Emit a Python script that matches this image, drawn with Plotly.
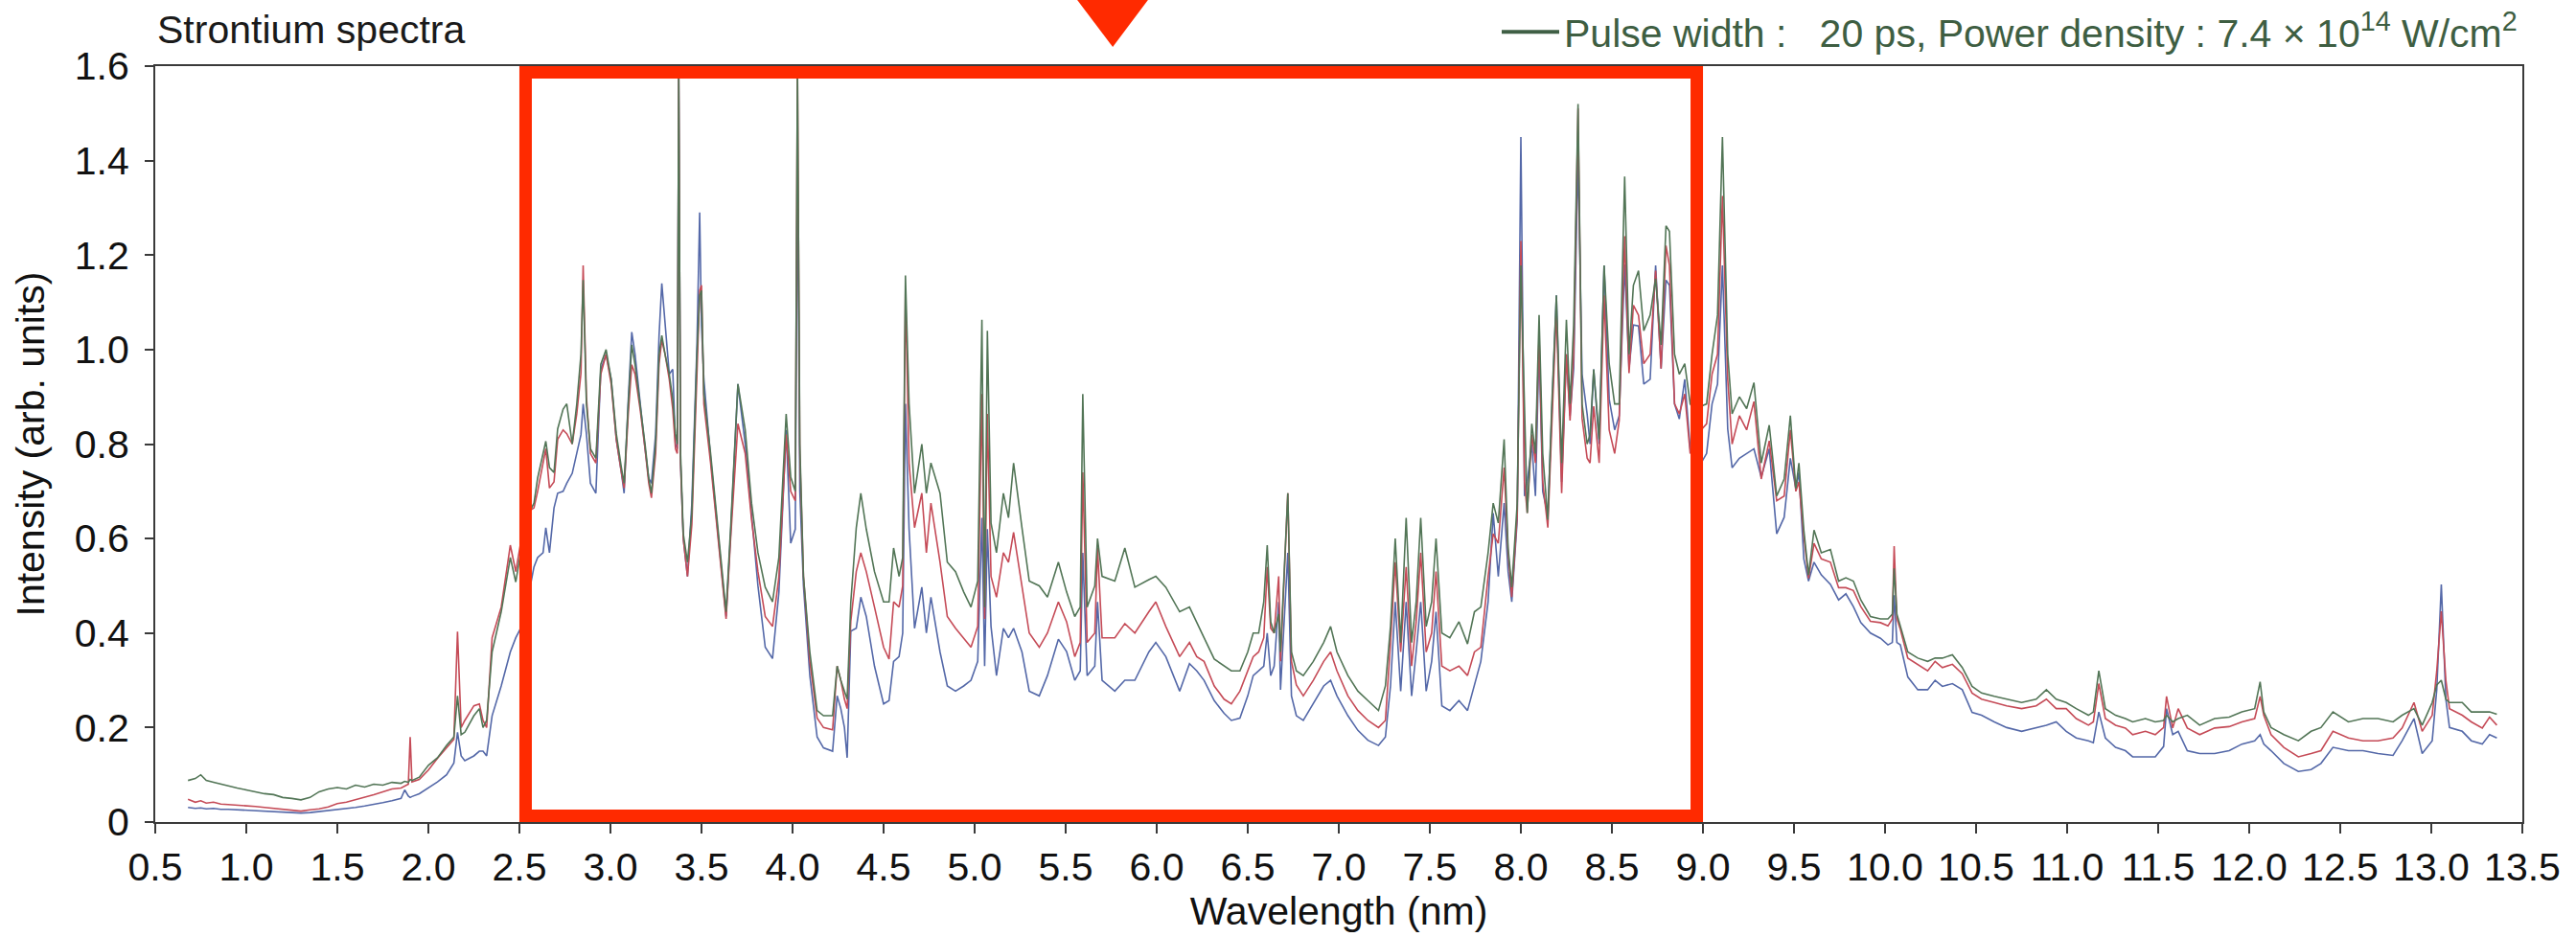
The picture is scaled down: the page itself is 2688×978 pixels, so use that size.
import plotly.graph_objects as go

# ---- data (wavelength in nm, intensity in arb. units) ----
wavelength = [
    0.68, 0.72, 0.75, 0.78, 0.82, 0.86, 0.90, 0.95, 1.00, 1.05, 1.10, 1.15, 1.20, 1.25, 1.30,
    1.35, 1.40, 1.45, 1.50, 1.55, 1.60, 1.65, 1.70, 1.75, 1.80, 1.85, 1.87, 1.89, 1.90, 1.91,
    1.95, 2.00, 2.05, 2.10, 2.14, 2.16, 2.18, 2.20, 2.25, 2.28, 2.30, 2.32, 2.35, 2.40, 2.45,
    2.48, 2.52, 2.56, 2.58, 2.60, 2.63, 2.645, 2.665, 2.69, 2.71, 2.74, 2.76, 2.79, 2.815, 2.838,
    2.85, 2.868, 2.89, 2.92, 2.947, 2.976, 3.004, 3.032, 3.06, 3.075, 3.098, 3.117, 3.135, 3.163, 3.19,
    3.21, 3.225, 3.248, 3.267, 3.282, 3.30, 3.323, 3.342, 3.357, 3.367, 3.375, 3.385, 3.40, 3.423, 3.447,
    3.475, 3.49, 3.50, 3.513, 3.55, 3.59, 3.635, 3.66, 3.70, 3.74, 3.775, 3.81, 3.85, 3.89, 3.925,
    3.965, 3.99, 4.015, 4.027, 4.04, 4.06, 4.095, 4.135, 4.17, 4.22, 4.245, 4.265, 4.285, 4.30, 4.32,
    4.35, 4.375, 4.405, 4.45, 4.50, 4.53, 4.555, 4.585, 4.605, 4.62, 4.64, 4.67, 4.71, 4.735, 4.76,
    4.81, 4.85, 4.895, 4.94, 4.98, 5.017, 5.04, 5.055, 5.07, 5.09, 5.12, 5.158, 5.186, 5.214, 5.26,
    5.30, 5.355, 5.40, 5.46, 5.505, 5.55, 5.58, 5.594, 5.618, 5.66, 5.675, 5.70, 5.77, 5.825, 5.88,
    5.957, 5.995, 6.05, 6.126, 6.18, 6.22, 6.26, 6.316, 6.37, 6.41, 6.457, 6.50, 6.53, 6.56, 6.588,
    6.607, 6.626, 6.645, 6.67, 6.68, 6.72, 6.74, 6.767, 6.805, 6.86, 6.917, 6.955, 6.99, 7.05, 7.105,
    7.16, 7.218, 7.256, 7.284, 7.31, 7.34, 7.37, 7.40, 7.425, 7.45, 7.48, 7.51, 7.534, 7.566, 7.61,
    7.66, 7.707, 7.745, 7.78, 7.82, 7.848, 7.876, 7.908, 7.93, 7.95, 7.98, 8.00, 8.02, 8.035, 8.06,
    8.08, 8.10, 8.12, 8.148, 8.17, 8.195, 8.224, 8.25, 8.27, 8.29, 8.314, 8.336, 8.364, 8.38, 8.40,
    8.43, 8.457, 8.485, 8.515, 8.54, 8.57, 8.594, 8.618, 8.646, 8.675, 8.71, 8.74, 8.77, 8.797, 8.816,
    8.844, 8.87, 8.90, 8.93, 8.96, 8.99, 9.02, 9.05, 9.08, 9.107, 9.136, 9.16, 9.20, 9.24, 9.28,
    9.32, 9.364, 9.405, 9.446, 9.48, 9.51, 9.527, 9.554, 9.58, 9.61, 9.65, 9.70, 9.745, 9.785, 9.826,
    9.867, 9.92, 9.975, 10.016, 10.04, 10.05, 10.065, 10.084, 10.125, 10.18, 10.234, 10.275, 10.315, 10.37, 10.424,
    10.478, 10.53, 10.60, 10.668, 10.75, 10.83, 10.886, 10.94, 10.995, 11.05, 11.117, 11.144, 11.174, 11.21, 11.266,
    11.32, 11.36, 11.43, 11.484, 11.53, 11.546, 11.58, 11.61, 11.66, 11.728, 11.81, 11.89, 11.96, 12.03, 12.06,
    12.08, 12.12, 12.19, 12.27, 12.34, 12.394, 12.46, 12.545, 12.625, 12.707, 12.79, 12.84, 12.905, 12.95, 13.005,
    13.03, 13.055, 13.08, 13.10, 13.17, 13.22, 13.28, 13.32, 13.36,
]

green_20ps = [
    0.088, 0.092, 0.100, 0.088, 0.084, 0.080, 0.076, 0.072, 0.068, 0.064, 0.060, 0.058, 0.052, 0.050, 0.047,
    0.052, 0.064, 0.070, 0.073, 0.070, 0.078, 0.074, 0.080, 0.078, 0.084, 0.082, 0.086, 0.084, 0.090, 0.088,
    0.095, 0.120, 0.136, 0.162, 0.180, 0.267, 0.185, 0.190, 0.225, 0.240, 0.200, 0.215, 0.360, 0.445, 0.560,
    0.508, 0.600, 0.660, 0.675, 0.728, 0.780, 0.806, 0.750, 0.740, 0.832, 0.874, 0.885, 0.800, 0.885, 0.990,
    1.147, 0.885, 0.790, 0.770, 0.969, 1.000, 0.937, 0.822, 0.750, 0.717, 0.885, 1.010, 0.968, 0.885, 0.800,
    0.728, 0.696, 0.800, 0.990, 1.030, 0.990, 0.948, 0.895, 0.822, 0.800, 1.580, 0.780, 0.610, 0.550, 0.654,
    0.990, 1.115, 1.125, 0.906, 0.780, 0.623, 0.445, 0.623, 0.927, 0.830, 0.675, 0.570, 0.497, 0.466, 0.560,
    0.864, 0.730, 0.700, 1.600, 0.800, 0.520, 0.360, 0.236, 0.225, 0.225, 0.330, 0.300, 0.277, 0.260, 0.466,
    0.623, 0.696, 0.620, 0.530, 0.466, 0.466, 0.580, 0.520, 0.560, 1.157, 0.885, 0.696, 0.800, 0.696, 0.760,
    0.696, 0.550, 0.530, 0.487, 0.455, 0.510, 1.063, 0.455, 1.040, 0.633, 0.570, 0.696, 0.644, 0.760, 0.623,
    0.510, 0.500, 0.476, 0.550, 0.487, 0.435, 0.455, 0.906, 0.455, 0.500, 0.600, 0.520, 0.510, 0.580, 0.497,
    0.513, 0.520, 0.497, 0.445, 0.455, 0.424, 0.390, 0.345, 0.330, 0.320, 0.320, 0.360, 0.400, 0.400, 0.466,
    0.586, 0.424, 0.400, 0.440, 0.360, 0.696, 0.360, 0.320, 0.310, 0.340, 0.380, 0.414, 0.360, 0.310, 0.277,
    0.257, 0.236, 0.288, 0.414, 0.600, 0.380, 0.644, 0.380, 0.466, 0.644, 0.414, 0.466, 0.600, 0.400, 0.390,
    0.424, 0.377, 0.445, 0.455, 0.570, 0.675, 0.633, 0.810, 0.580, 0.497, 0.675, 1.178, 0.885, 0.654, 0.843,
    0.780, 1.073, 0.780, 0.640, 0.885, 1.115, 0.760, 1.063, 0.885, 1.052, 1.520, 0.885, 0.800, 0.820, 0.958,
    0.810, 1.178, 0.970, 0.885, 0.885, 1.366, 0.990, 1.136, 1.167, 1.040, 1.073, 1.150, 1.010, 1.262, 1.250,
    0.990, 0.948, 0.970, 0.885, 0.870, 0.880, 0.885, 0.990, 1.073, 1.450, 0.990, 0.864, 0.900, 0.875, 0.930,
    0.760, 0.840, 0.690, 0.726, 0.860, 0.706, 0.760, 0.618, 0.523, 0.618, 0.570, 0.577, 0.510, 0.517, 0.510,
    0.470, 0.435, 0.430, 0.430, 0.440, 0.537, 0.440, 0.415, 0.360, 0.347, 0.340, 0.347, 0.347, 0.354, 0.327,
    0.287, 0.273, 0.266, 0.260, 0.253, 0.260, 0.280, 0.260, 0.253, 0.240, 0.226, 0.233, 0.320, 0.240, 0.226,
    0.219, 0.212, 0.219, 0.212, 0.215, 0.226, 0.212, 0.219, 0.226, 0.205, 0.219, 0.222, 0.233, 0.240, 0.297,
    0.233, 0.200, 0.185, 0.172, 0.192, 0.200, 0.233, 0.212, 0.219, 0.219, 0.212, 0.226, 0.240, 0.205, 0.253,
    0.290, 0.300, 0.260, 0.253, 0.253, 0.233, 0.233, 0.233, 0.228,
]

red_series = [
    0.048, 0.042, 0.045, 0.040, 0.042, 0.038, 0.037, 0.036, 0.035, 0.033, 0.031, 0.029, 0.026, 0.024, 0.023,
    0.026, 0.028, 0.032, 0.039, 0.042, 0.047, 0.052, 0.058, 0.064, 0.070, 0.072, 0.076, 0.080, 0.180, 0.085,
    0.090, 0.110, 0.135, 0.157, 0.175, 0.403, 0.200, 0.215, 0.246, 0.250, 0.215, 0.200, 0.390, 0.455, 0.586,
    0.530, 0.620, 0.660, 0.665, 0.700, 0.760, 0.790, 0.707, 0.720, 0.810, 0.830, 0.822, 0.800, 0.864, 0.950,
    1.178, 0.900, 0.780, 0.760, 0.948, 0.990, 0.927, 0.810, 0.740, 0.707, 0.865, 0.968, 0.948, 0.874, 0.790,
    0.718, 0.686, 0.780, 0.970, 1.020, 0.990, 0.937, 0.874, 0.790, 0.780, 1.600, 0.760, 0.600, 0.520, 0.630,
    0.948, 1.125, 1.136, 0.885, 0.760, 0.600, 0.430, 0.600, 0.843, 0.780, 0.640, 0.530, 0.435, 0.414, 0.518,
    0.820, 0.700, 0.680, 1.600, 0.780, 0.520, 0.340, 0.220, 0.200, 0.195, 0.330, 0.300, 0.260, 0.240, 0.425,
    0.530, 0.570, 0.530, 0.455, 0.370, 0.345, 0.466, 0.455, 0.500, 1.125, 0.760, 0.623, 0.696, 0.570, 0.675,
    0.550, 0.435, 0.410, 0.390, 0.370, 0.414, 0.906, 0.430, 0.864, 0.520, 0.476, 0.570, 0.550, 0.613, 0.497,
    0.400, 0.370, 0.400, 0.466, 0.424, 0.350, 0.380, 0.740, 0.380, 0.400, 0.580, 0.390, 0.390, 0.420, 0.400,
    0.445, 0.466, 0.414, 0.350, 0.380, 0.350, 0.340, 0.288, 0.260, 0.250, 0.277, 0.320, 0.350, 0.360, 0.390,
    0.540, 0.410, 0.400, 0.520, 0.340, 0.696, 0.340, 0.290, 0.267, 0.300, 0.340, 0.360, 0.320, 0.267, 0.236,
    0.215, 0.200, 0.215, 0.380, 0.550, 0.360, 0.540, 0.330, 0.424, 0.570, 0.360, 0.400, 0.530, 0.330, 0.320,
    0.330, 0.310, 0.360, 0.370, 0.520, 0.610, 0.590, 0.750, 0.570, 0.476, 0.650, 1.230, 0.720, 0.654, 0.820,
    0.760, 1.030, 0.720, 0.623, 0.850, 1.085, 0.696, 0.990, 0.850, 0.990, 1.510, 0.855, 0.770, 0.760, 0.880,
    0.760, 1.115, 0.830, 0.780, 0.850, 1.240, 0.950, 1.094, 1.073, 0.970, 0.990, 1.167, 0.960, 1.220, 1.178,
    0.885, 0.864, 0.906, 0.780, 0.800, 0.830, 0.843, 0.948, 0.990, 1.325, 0.937, 0.800, 0.860, 0.830, 0.890,
    0.726, 0.807, 0.680, 0.690, 0.830, 0.700, 0.720, 0.605, 0.516, 0.590, 0.557, 0.550, 0.496, 0.496, 0.490,
    0.456, 0.425, 0.422, 0.415, 0.430, 0.584, 0.430, 0.408, 0.347, 0.334, 0.320, 0.340, 0.327, 0.334, 0.314,
    0.273, 0.260, 0.253, 0.246, 0.240, 0.246, 0.260, 0.240, 0.240, 0.219, 0.205, 0.212, 0.293, 0.219, 0.205,
    0.199, 0.185, 0.192, 0.185, 0.200, 0.266, 0.199, 0.240, 0.199, 0.185, 0.199, 0.202, 0.212, 0.219, 0.266,
    0.226, 0.185, 0.158, 0.138, 0.145, 0.151, 0.192, 0.178, 0.172, 0.172, 0.178, 0.199, 0.253, 0.192, 0.226,
    0.320, 0.446, 0.300, 0.240, 0.226, 0.212, 0.199, 0.222, 0.205,
]

blue_series = [
    0.031, 0.029, 0.030, 0.028, 0.029, 0.027, 0.027, 0.026, 0.026, 0.024, 0.023, 0.022, 0.021, 0.020, 0.019,
    0.020, 0.022, 0.024, 0.026, 0.028, 0.031, 0.034, 0.037, 0.041, 0.045, 0.050, 0.068, 0.055, 0.052, 0.054,
    0.060, 0.073, 0.085, 0.100, 0.125, 0.190, 0.140, 0.130, 0.140, 0.150, 0.150, 0.140, 0.225, 0.288, 0.360,
    0.390, 0.420, 0.500, 0.540, 0.560, 0.570, 0.623, 0.570, 0.665, 0.696, 0.700, 0.717, 0.738, 0.780, 0.820,
    0.885, 0.822, 0.717, 0.696, 0.958, 0.990, 0.937, 0.810, 0.740, 0.696, 0.895, 1.037, 0.990, 0.885, 0.790,
    0.728, 0.717, 0.820, 1.030, 1.140, 1.063, 0.948, 0.958, 0.800, 0.790, 1.580, 0.760, 0.600, 0.520, 0.675,
    1.010, 1.290, 1.050, 0.937, 0.770, 0.610, 0.435, 0.610, 0.927, 0.800, 0.650, 0.500, 0.370, 0.346, 0.486,
    0.830, 0.590, 0.620, 1.400, 0.700, 0.500, 0.310, 0.180, 0.157, 0.150, 0.267, 0.240, 0.200, 0.136, 0.404,
    0.410, 0.476, 0.435, 0.330, 0.250, 0.257, 0.340, 0.350, 0.400, 0.885, 0.620, 0.410, 0.497, 0.400, 0.476,
    0.360, 0.288, 0.277, 0.288, 0.300, 0.340, 0.644, 0.330, 0.620, 0.414, 0.310, 0.410, 0.390, 0.410, 0.360,
    0.277, 0.267, 0.310, 0.387, 0.361, 0.300, 0.320, 0.570, 0.310, 0.330, 0.466, 0.300, 0.277, 0.300, 0.300,
    0.360, 0.380, 0.350, 0.277, 0.335, 0.320, 0.300, 0.257, 0.230, 0.215, 0.220, 0.267, 0.310, 0.320, 0.330,
    0.400, 0.310, 0.330, 0.466, 0.280, 0.570, 0.267, 0.225, 0.215, 0.250, 0.288, 0.300, 0.267, 0.225, 0.194,
    0.173, 0.162, 0.180, 0.288, 0.466, 0.277, 0.466, 0.267, 0.360, 0.466, 0.277, 0.340, 0.445, 0.246, 0.236,
    0.257, 0.236, 0.288, 0.340, 0.466, 0.654, 0.520, 0.675, 0.530, 0.466, 0.640, 1.450, 0.690, 0.720, 0.800,
    0.690, 1.010, 0.700, 0.650, 0.860, 1.115, 0.720, 0.990, 0.860, 0.960, 1.410, 0.948, 0.863, 0.800, 0.958,
    0.800, 1.178, 0.895, 0.830, 0.860, 1.180, 0.960, 1.052, 1.050, 0.927, 0.937, 1.178, 0.960, 1.147, 1.136,
    0.885, 0.853, 0.937, 0.790, 0.780, 0.760, 0.780, 0.885, 0.927, 1.178, 0.832, 0.750, 0.770, 0.780, 0.790,
    0.730, 0.790, 0.610, 0.645, 0.770, 0.706, 0.740, 0.557, 0.510, 0.550, 0.523, 0.503, 0.470, 0.483, 0.456,
    0.422, 0.400, 0.389, 0.375, 0.380, 0.480, 0.380, 0.375, 0.307, 0.280, 0.280, 0.300, 0.287, 0.293, 0.280,
    0.232, 0.226, 0.212, 0.200, 0.192, 0.199, 0.205, 0.212, 0.192, 0.178, 0.172, 0.168, 0.233, 0.178, 0.158,
    0.151, 0.138, 0.138, 0.138, 0.160, 0.240, 0.185, 0.192, 0.151, 0.145, 0.145, 0.151, 0.165, 0.172, 0.185,
    0.165, 0.151, 0.124, 0.107, 0.111, 0.124, 0.158, 0.151, 0.151, 0.145, 0.141, 0.172, 0.219, 0.145, 0.172,
    0.280, 0.503, 0.260, 0.200, 0.192, 0.172, 0.165, 0.185, 0.178,
]

y_tick_values = [0, 0.2, 0.4, 0.6, 0.8, 1.0, 1.2, 1.4, 1.6]
y_tick_labels = ["0", "0.2", "0.4", "0.6", "0.8", "1.0", "1.2", "1.4", "1.6"]

legend_label = ("Pulse width :\u00a0\u00a0 20 ps, Power density : 7.4 \u00d7 10"
                "<sup>14</sup> W/cm<sup>2</sup>")

assert len(wavelength) == len(green_20ps) == len(red_series) == len(blue_series)

FONT = "Liberation Sans, Arial, Helvetica, sans-serif"
GREEN = "#527556"
RED = "#c54b57"
BLUE = "#5468a8"

fig = go.Figure()
fig.add_trace(go.Scatter(x=wavelength, y=blue_series, mode="lines",
                         line=dict(color=BLUE, width=1.6), showlegend=False, name="blue"))
fig.add_trace(go.Scatter(x=wavelength, y=red_series, mode="lines",
                         line=dict(color=RED, width=1.6), showlegend=False, name="red"))
fig.add_trace(go.Scatter(x=wavelength, y=green_20ps, mode="lines",
                         line=dict(color=GREEN, width=1.6), showlegend=False, name="20 ps"))
# legend entry for the green (20 ps) spectrum
fig.add_trace(go.Scatter(x=[None], y=[None], mode="lines",
                         line=dict(color="#3f5f45", width=4), name=legend_label, showlegend=True))

fig.update_layout(
    width=2688, height=978,
    margin=dict(l=162, r=56, t=69, b=120, autoexpand=False),
    paper_bgcolor="white", plot_bgcolor="white",
    font=dict(family=FONT, size=41, color="#1a1a1a"),
    showlegend=True,
    legend=dict(x=1.0, xanchor="right", y=1.045, yanchor="middle",
                bgcolor="rgba(0,0,0,0)", borderwidth=0,
                font=dict(family=FONT, size=41, color="#3e5e42"), itemwidth=60),
)

fig.update_xaxes(
    range=[0.5, 13.5], tick0=0.5, dtick=0.5, tickformat=".1f",
    showline=True, linecolor="#3a3a3a", linewidth=2, mirror=True,
    ticks="outside", ticklen=10, tickwidth=2, tickcolor="#3a3a3a",
    showgrid=False, zeroline=False,
    tickfont=dict(family=FONT, size=41, color="#111"),
    title=dict(text="Wavelength (nm)", font=dict(family=FONT, size=41, color="#111"), standoff=8),
)
fig.update_yaxes(
    range=[0, 1.6], tickvals=y_tick_values, ticktext=y_tick_labels,
    showline=True, linecolor="#3a3a3a", linewidth=2, mirror=True,
    ticks="outside", ticklen=9, tickwidth=2, tickcolor="#3a3a3a",
    showgrid=False, zeroline=False,
    tickfont=dict(family=FONT, size=41, color="#111"), ticklabelstandoff=8,
    title=dict(text="Intensity (arb. units)", font=dict(family=FONT, size=41, color="#111"), standoff=18),
)

# chart title
fig.add_annotation(text="Strontium spectra", xref="paper", yref="paper", x=0.0, y=1.048,
                   xanchor="left", yanchor="middle", showarrow=False,
                   font=dict(family=FONT, size=41, color="#1a1a1a"))

# red highlight frame (2.5 nm to 9.0 nm)
fig.add_shape(type="rect", xref="x", yref="y", x0=2.534, x1=8.966, y0=0.0132, y1=1.5868,
              line=dict(color="#ff2a00", width=13), fillcolor="rgba(0,0,0,0)", layer="above")
# red arrow marker above the frame
fig.add_shape(type="path", xref="paper", yref="paper",
              path="M 0.3895 1.0875 L 0.4194 1.0875 L 0.4045 1.0253 Z",
              fillcolor="#ff2a00", line=dict(width=0), layer="above")

fig.write_html("out.html")
